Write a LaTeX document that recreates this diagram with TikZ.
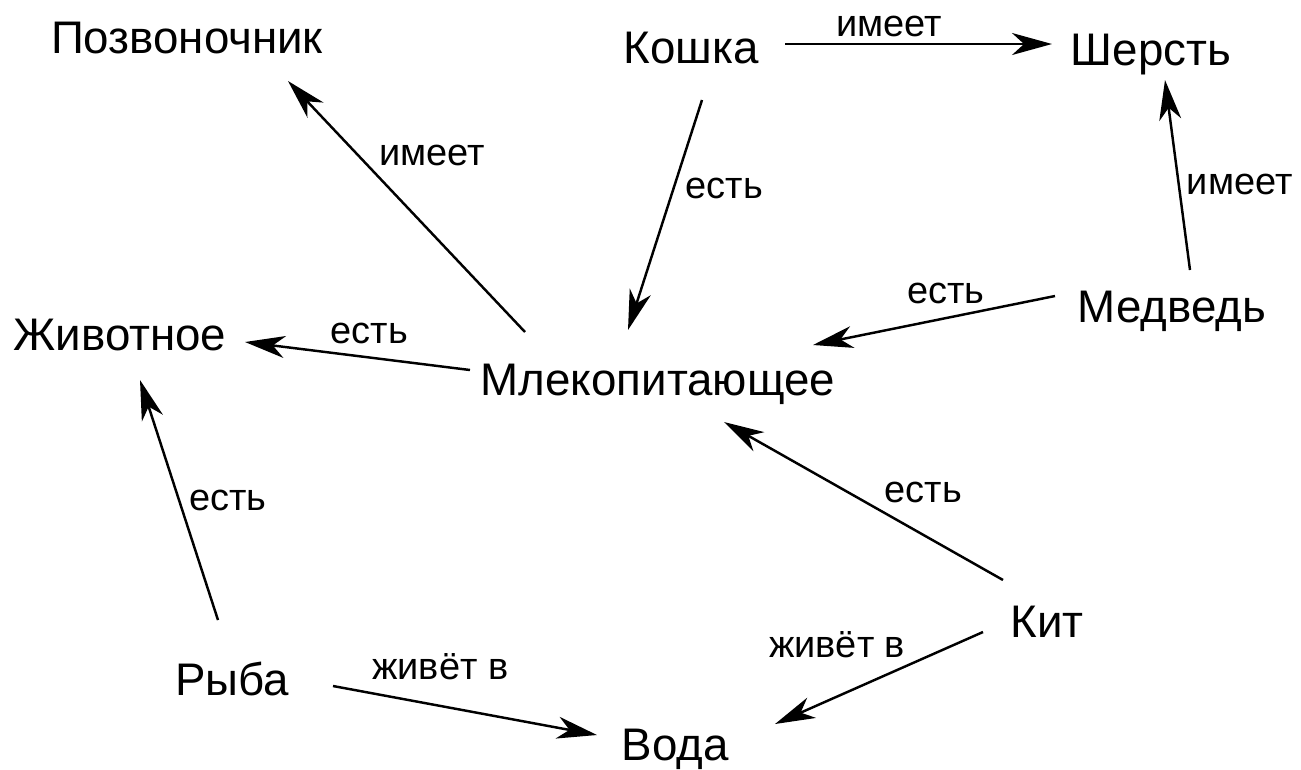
\documentclass[tikz,border=0pt]{standalone}
\usepackage{fontspec}
\setmainfont{Liberation Sans}
\usetikzlibrary{arrows.meta,calc}
\begin{document}
\begin{tikzpicture}[x=0.02cm,y=-0.02cm,
  concept/.style={font=\fontsize{26}{31}\selectfont,inner sep=0pt,text height=0.66cm,text depth=0.22cm},
  rel/.style={font=\fontsize{21.6}{26}\selectfont,inner sep=0pt},
  link/.style={line width=1.4pt,-{Stealth[length=0.8cm,width=0.44cm,inset=0.24cm]}}]
\useasboundingbox (0,0) rectangle (1301,769);
\node[concept] (poz) at (187,42) {Позвоночник};
\node[concept] (kot) at (691,52) {Кошка};
\node[concept] (sher) at (1151,54) {Шерсть};
\node[concept] (zhiv) at (120,339) {Животное};
\node[concept] (mam) at (658,384) {Млекопитающее};
\node[concept] (med) at (1172,311) {Медведь};
\node[concept] (kit) at (1047,626) {Кит};
\node[concept] (ryba) at (232,684) {Рыба};
\node[concept] (voda) at (675,749) {Вода};
\draw[link] ($(mam)+(-133,-52)$) -- node[rel,pos=.56,shift={(40,-36)}] {имеет} ($(poz)+(101,39)$);
\draw[link] ($(kot)+(94,-8)$) -- node[rel,pos=.39,shift={(0,-18)}] {имеет} ($(sher)+(-99,-10)$);
\draw[link] ($(kot)+(11,48)$) -- node[rel,pos=.32,shift={(46,15)}] {есть} ($(mam)+(-30,-54)$);
\draw[link] ($(med)+(18,-41)$) -- node[rel,pos=.41,shift={(60,-8)}] {имеет} ($(sher)+(14,26)$);
\draw[link] ($(med)+(-117,-15)$) -- node[rel,pos=.43,shift={(-5,-24)}] {есть} ($(mam)+(155,-39)$);
\draw[link] ($(mam)+(-188,-14)$) -- node[rel,pos=.46,shift={(3,-24)}] {есть} ($(zhiv)+(125,3)$);
\draw[link] ($(ryba)+(-14,-64)$) -- node[rel,pos=.44,shift={(44,-14)}] {есть} ($(zhiv)+(20,41)$);
\draw[link] ($(kit)+(-44,-46)$) -- node[rel,pos=.35,shift={(18,-32)}] {есть} ($(mam)+(66,38)$);
\draw[link] ($(kit)+(-64,6)$) -- node[rel,pos=.61,shift={(-19,-43)}] {живёт в} ($(voda)+(100,-25)$);
\draw[link] ($(ryba)+(101,2)$) -- node[rel,pos=.38,shift={(7,-38)}] {живёт в} ($(voda)+(-78,-14)$);
\end{tikzpicture}
\end{document}
